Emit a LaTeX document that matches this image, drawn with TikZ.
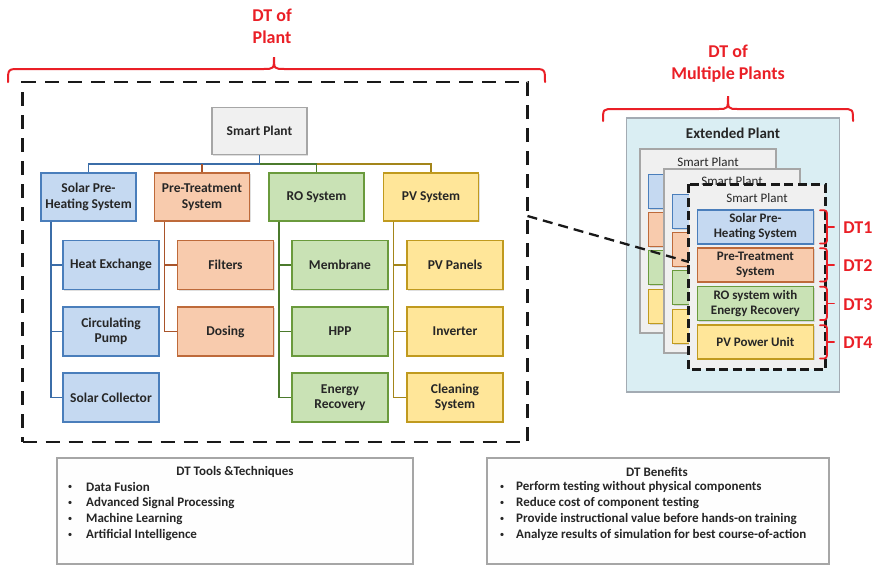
\documentclass[tikz,border=0pt]{standalone}
\usepackage{fontspec}
\setmainfont{Carlito}
\usetikzlibrary{shadows,calc}
\definecolor{blueF}{HTML}{C5D9F1}
\definecolor{blueD}{HTML}{4A7EBB}
\definecolor{orF}{HTML}{F8CBAD}
\definecolor{orD}{HTML}{BE6A3A}
\definecolor{grF}{HTML}{C9E2B5}
\definecolor{grD}{HTML}{6A9A3C}
\definecolor{yeF}{HTML}{FFE699}
\definecolor{yeD}{HTML}{C09A1E}
\definecolor{blueL}{HTML}{3B6DA8}
\definecolor{orL}{HTML}{A9542A}
\definecolor{grL}{HTML}{4B7A2C}
\definecolor{yeL}{HTML}{A3851A}
\definecolor{grayF}{HTML}{F0F0F0}
\definecolor{grayD}{HTML}{A6A6A6}
\definecolor{extF}{HTML}{DAEEF3}
\definecolor{extD}{HTML}{A3ABB3}
\definecolor{dtred}{HTML}{EA1F26}
\tikzset{
  txt/.style={font=\fontsize{13.5}{15.5}\selectfont\bfseries, text=black!85},
  sbox/.style={txt, draw, line width=1.3pt, align=center, inner sep=1pt,
    drop shadow={opacity=0.25, shadow xshift=1.2pt, shadow yshift=-1.2pt}},
  lvone/.style={sbox, minimum width=95pt, minimum height=48pt},
  lvtwo/.style={sbox, minimum width=96pt, minimum height=49pt},
  bluebox/.style={fill=blueF, draw=blueD},
  orbox/.style={fill=orF, draw=orD},
  grbox/.style={fill=grF, draw=grD},
  yebox/.style={fill=yeF, draw=yeD},
  graybox/.style={fill=grayF, draw=grayD},
  conn/.style={line width=1.4pt},
  rbox/.style={sbox, minimum width=116pt, minimum height=34pt, font=\fontsize{13}{15}\selectfont\bfseries},
  splant/.style={draw=grayD, fill=grayF, line width=1.2pt, minimum width=136pt, minimum height=184pt, inner sep=0pt},
  redtxt/.style={text=dtred, font=\fontsize{18}{22}\selectfont\bfseries, align=center},
  redline/.style={draw=dtred, line width=2pt, line cap=round},
  bigdash/.style={draw=black!90, line width=2.6pt, dash pattern=on 14pt off 9pt},
  infobox/.style={draw=grayD, fill=grayF!95!black!3, line width=1.8pt, inner sep=0pt},
  infotxt/.style={font=\fontsize{13}{16}\selectfont\bfseries, text=black!85, anchor=west, inner sep=0pt},
  bul/.style={font=\fontsize{9}{10}\selectfont, text=black!85, inner sep=0pt},
}
\begin{document}
\begin{tikzpicture}[x=1pt,y=-1pt]
\useasboundingbox (0,0) rectangle (878,566);
\fill[white] (0,0) rectangle (878,566);

% ===== Left: DT of Plant =====
\node[redtxt] (dtplant) at (272,26) {DT of\\Plant};
\draw[redline] (8,82) .. controls (8,69) .. (20,69) -- (263,69) .. controls (274,69) .. (274,57)
  .. controls (274,69) .. (285,69) -- (533,69) .. controls (545,69) .. (545,82);

\node[bigdash, minimum width=505pt, minimum height=360pt, inner sep=0pt] (plant) at (275,262) {};

\node[lvone, graybox, minimum width=95pt, minimum height=47pt] (root) at (259.5,131) {Smart Plant};
\coordinate (bus) at (0,164);

\node[lvone, bluebox] (s1) at (88.5,197) {Solar Pre-\\Heating System};
\node[lvone, orbox]   (s2) at (202,197) {Pre-Treatment\\System};
\node[lvone, grbox]   (s3) at (316.5,197) {RO System};
\node[lvone, yebox]   (s4) at (431,197) {PV System};

\node[lvtwo, bluebox] (a1) at (111,265) {Heat Exchange};
\node[lvtwo, bluebox] (a2) at (111,331.5) {Circulating\\Pump};
\node[lvtwo, bluebox] (a3) at (111,397.5) {Solar Collector};
\node[lvtwo, orbox] (b1) at (225.5,265) {Filters};
\node[lvtwo, orbox] (b2) at (225.5,331.5) {Dosing};
\node[lvtwo, grbox] (c1) at (340,265) {Membrane};
\node[lvtwo, grbox] (c2) at (340,331.5) {HPP};
\node[lvtwo, grbox] (c3) at (340,397.5) {Energy\\Recovery};
\node[lvtwo, yebox] (d1) at (455,265) {PV Panels};
\node[lvtwo, yebox] (d2) at (455,331.5) {Inverter};
\node[lvtwo, yebox] (d3) at (455,397.5) {Cleaning\\System};

% bus connectors
\draw[conn, blueL] (root.south) -- (root.south |- bus) -| (s1.north);
\draw[conn, grL] (root.south |- bus) -| (s3.north);
\draw[conn, yeL] (s3.north |- bus) -| (s4.north);
\draw[conn, orL] (s2.north |- bus) -- (s2.north);
\draw[conn, blueL] (root.south) -- (root.south |- bus);

% child connectors
\foreach \c in {a1,a2,a3} \draw[conn, blueL] ([xshift=10.5pt]s1.south west) |- (\c.west);
\foreach \c in {b1,b2} \draw[conn, orL] ([xshift=10.5pt]s2.south west) |- (\c.west);
\foreach \c in {c1,c2,c3} \draw[conn, grL] ([xshift=10.5pt]s3.south west) |- (\c.west);
\foreach \c in {d1,d2,d3} \draw[conn, yeL] ([xshift=10.5pt]s4.south west) |- (\c.west);

% ===== Right: DT of Multiple Plants =====
\node[redtxt] (dtmulti) at (728,64) {DT of\\Multiple Plants};
\draw[redline] (603,121) .. controls (603,109) .. (614,109) -- (718,109) .. controls (728,109) .. (728,96)
  .. controls (728,109) .. (738,109) -- (842,109) .. controls (853,109) .. (853,121);

\node[draw=extD, fill=extF, line width=1.3pt, minimum width=213pt, minimum height=274pt, inner sep=0pt] (ext) at (733,255) {};
\node[txt, font=\fontsize{15}{17}\selectfont\bfseries] (extt) at (733,133) {Extended Plant};

% back plant 1
\node[splant] (p1) at (708,241) {};
\node[txt, font=\fontsize{13}{15}\selectfont] (p1t) at (p1.north) [yshift=-14pt] {Smart Plant};
\node[rbox, bluebox] (p1a) at ($(p1.north west)+(67,43)$) {};
\node[rbox, orbox]   (p1b) at ($(p1.north west)+(67,81)$) {};
\node[rbox, grbox]   (p1c) at ($(p1.north west)+(67,119)$) {};
\node[rbox, yebox]   (p1d) at ($(p1.north west)+(67,158)$) {};

% back plant 2
\node[splant] (p2) at (732,261) {};
\node[txt, font=\fontsize{13}{15}\selectfont] (p2t) at (p2.north) [yshift=-13pt] {Smart Plant};
\node[rbox, bluebox] (p2a) at ($(p2.north west)+(67,43)$) {};
\node[rbox, orbox]   (p2b) at ($(p2.north west)+(67,81)$) {};
\node[rbox, grbox]   (p2c) at ($(p2.north west)+(67,119)$) {};
\node[rbox, yebox]   (p2d) at ($(p2.north west)+(67,158)$) {};

% connector
\coordinate (cA) at (527.5,216);
\coordinate (cB) at (689,262);
\draw[draw=black!90, line width=2.3pt, dash pattern=on 10pt off 6pt] (cA) -- (cB);

% front plant
\node[splant, draw=none] (p3) at (757,277) {};
\node[txt, font=\fontsize{13}{15}\selectfont] (p3t) at (p3.north) [yshift=-14pt] {Smart Plant};
\node[rbox, bluebox] (f1) at ($(p3.north west)+(67,42.5)$) {Solar Pre-\\Heating System};
\node[rbox, orbox]   (f2) at ($(p3.north west)+(67,80.5)$) {Pre-Treatment\\System};
\node[rbox, grbox]   (f3) at ($(p3.north west)+(67,119)$) {RO system with\\Energy Recovery};
\node[rbox, yebox]   (f4) at ($(p3.north west)+(67,157.5)$) {PV Power Unit};
\draw[draw=black!90, line width=2.4pt, dash pattern=on 9pt off 4.5pt] (p3.north west) rectangle (p3.south east);

% DT brackets
\foreach \b/\l in {f1/DT1,f2/DT2,f3/DT3,f4/DT4}{
  \draw[redline, line width=1.8pt, rounded corners=3pt]
    ($(\b.north east)+(6,1)$) -- ($(\b.north east)+(13,1)$) -- ($(\b.south east)+(13,-1)$) -- ($(\b.south east)+(6,-1)$);
  \draw[redline, line width=1.8pt] ($(\b.east)+(13,0)$) -- ($(\b.east)+(20,0)$);
  \node[redtxt, anchor=west, inner sep=0pt] (lab\l) at ($(\b.east)+(29,1)$) {\l};
}

% ===== Bottom info boxes =====
\node[infobox, minimum width=356pt, minimum height=106pt] (tools) at (235,511) {};
\node[infotxt, anchor=center] (toolst) at (235,472) {DT Tools \&Techniques};
\foreach \t [count=\i] in {Data Fusion, Advanced Signal Processing, Machine Learning, Artificial Intelligence}{
  \node[bul] (tb\i) at (70,471+16*\i) {\textbullet};
  \node[infotxt] (tt\i) at (86,471+16*\i) {\t};
}

\node[infobox, minimum width=342pt, minimum height=106pt] (ben) at (658,511) {};
\node[infotxt, anchor=center] (bent) at (657,472) {DT Benefits};
\foreach \t [count=\i] in {Perform testing without physical components, Reduce cost of component testing, Provide instructional value before hands-on training, Analyze results of simulation for best course-of-action}{
  \node[bul] (bb\i) at (502,471+16*\i) {\textbullet};
  \node[infotxt] (bt\i) at (516,471+16*\i) {\t};
}
\end{tikzpicture}
\end{document}
